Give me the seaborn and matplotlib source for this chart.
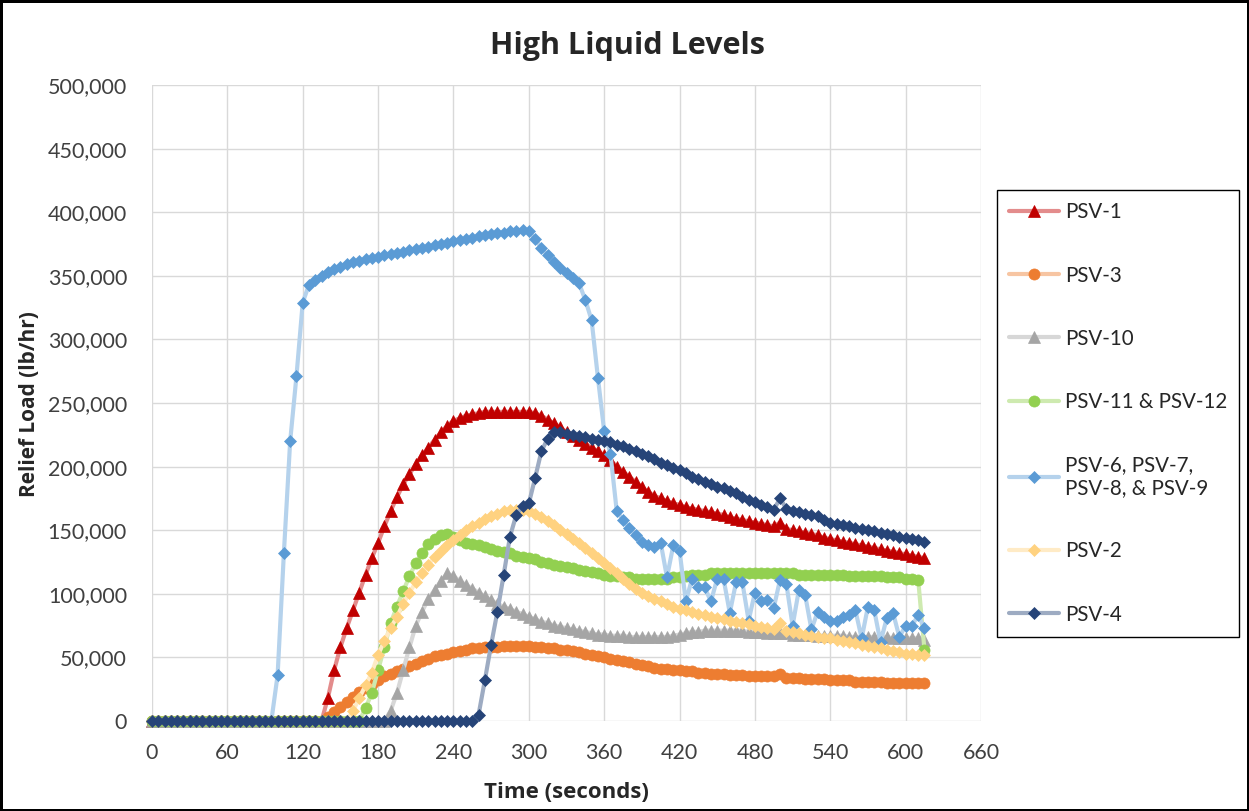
import numpy as np
import matplotlib
matplotlib.use('Agg')
import matplotlib.pyplot as plt
import seaborn as sns
from matplotlib.ticker import FuncFormatter
from matplotlib.colors import to_rgb

# time grid (s) and relief loads, in thousands of lb/hr
time_s = np.arange(0, 620, 5)

psv_1 = [0] * 28 + [
    18, 40, 58, 73, 87, 101, 115, 128, 140, 153,
    165, 176, 186, 194, 202, 209, 215, 221, 227, 232,
    236, 238, 240, 241, 242, 243, 243, 243, 243, 243,
    243, 243, 243, 242, 240, 237, 234, 231, 227, 224,
    221, 218, 215, 212, 209, 205, 200, 196, 192, 188,
    184, 180, 177, 175, 173, 171, 170, 168, 167, 166,
    165, 164, 163, 162, 160, 159, 158, 157, 156, 155,
    154, 153, 156, 151, 150, 149, 148, 147, 146, 144,
    143, 142, 141, 140, 139, 138, 137, 136, 135, 134,
    133, 132, 131, 130, 129, 128]

psv_3 = [0] * 28 + [
    3, 7, 11, 15, 19, 23, 26, 29, 32, 35,
    37, 39, 41, 43, 45, 47, 49, 51, 52, 53,
    54, 55, 56, 57, 57, 58, 58, 58, 59, 59,
    59, 59, 59, 58, 58, 57, 57, 56, 56, 55,
    54, 53, 52, 51, 50, 49, 48, 47, 46, 45,
    44, 43, 42, 41, 41, 40, 40, 39, 39, 38,
    38, 37, 37, 37, 36, 36, 36, 35, 35, 35,
    35, 35, 37, 34, 34, 34, 33, 33, 33, 33,
    32, 32, 32, 32, 31, 31, 31, 31, 31, 30,
    30, 30, 30, 30, 30, 30]

psv_10 = [0] * 38 + [
    8, 22, 40, 58, 75, 86, 96, 103, 110, 116,
    114, 110, 107, 104, 101, 98, 95, 92, 90, 88,
    86, 84, 82, 80, 78, 77, 75, 74, 73, 72,
    71, 70, 69, 68, 68, 67, 67, 67, 66, 66,
    66, 66, 66, 66, 66, 67, 68, 69, 70, 70,
    71, 71, 71, 71, 71, 71, 71, 70, 70, 70,
    69, 69, 69, 69, 68, 68, 68, 68, 67, 67,
    67, 67, 67, 66, 66, 66, 66, 66, 66, 66,
    65, 65, 65, 65, 65, 64]

psv_11_12 = [0] * 34 + [
    10, 22, 40, 58, 77, 90, 102, 114, 124, 132,
    139, 143, 146, 147, 145, 142, 140, 139, 138, 137,
    135, 134, 133, 132, 130, 129, 128, 127, 125, 124,
    123, 122, 121, 120, 119, 118, 117, 116, 115, 114,
    114, 113, 113, 112, 112, 112, 112, 112, 112, 113,
    113, 114, 115, 115, 115, 116, 116, 116, 116, 116,
    116, 116, 116, 116, 116, 116, 116, 116, 116, 115,
    115, 115, 115, 115, 115, 115, 115, 114, 114, 114,
    114, 114, 114, 113, 113, 113, 112, 112, 111, 56]

psv_6_9 = [0] * 20 + [
    36, 132, 220, 271, 329, 343, 347, 350, 353, 355,
    357, 359, 361, 362, 363, 364, 365, 366, 367, 368,
    369, 370, 371, 372, 373, 374, 375, 376, 377, 378,
    379, 380, 381, 382, 383, 384, 384, 385, 385, 386,
    385, 379, 372, 366, 361, 356, 352, 348, 344, 331,
    315, 270, 228, 210, 165, 158, 152, 146, 141, 138,
    137, 140, 113, 138, 134, 94, 112, 105, 105, 94,
    112, 112, 85, 109, 109, 79, 101, 94, 95, 89,
    111, 108, 75, 103, 99, 72, 86, 82, 79, 79,
    82, 83, 87, 65, 90, 87, 62, 81, 85, 66,
    75, 75, 83, 73]

psv_2 = [0] * 32 + [
    8, 18, 28, 38, 52, 63, 73, 82, 92, 101,
    109, 116, 123, 129, 134, 138, 142, 146, 150, 153,
    156, 159, 161, 163, 165, 166, 166, 166, 165, 163,
    160, 157, 154, 150, 147, 143, 140, 136, 132, 128,
    124, 120, 116, 112, 108, 104, 101, 98, 96, 94,
    92, 90, 88, 87, 86, 84, 83, 82, 81, 80,
    79, 78, 77, 76, 75, 74, 73, 72, 77, 71,
    70, 69, 68, 67, 66, 65, 65, 64, 63, 62,
    61, 60, 59, 58, 57, 56, 55, 54, 53, 53,
    52, 52]

psv_4 = [0] * 52 + [
    5, 32, 60, 86, 115, 145, 162, 169, 171, 191,
    212, 222, 227, 227, 226, 225, 224, 223, 222, 221,
    220, 219, 217, 216, 214, 212, 210, 208, 206, 203,
    201, 199, 197, 195, 192, 190, 188, 186, 184, 183,
    181, 179, 176, 174, 172, 170, 168, 166, 175, 167,
    165, 164, 163, 162, 161, 158, 156, 155, 154, 153,
    152, 151, 150, 149, 148, 147, 146, 145, 144, 143,
    142, 141]

series_names = ['PSV-1', 'PSV-3', 'PSV-10', 'PSV-11 & PSV-12',
                'PSV-6, PSV-7,\nPSV-8, & PSV-9', 'PSV-2', 'PSV-4']
series_vals = [psv_1, psv_3, psv_10, psv_11_12, psv_6_9, psv_2, psv_4]

# colour, marker, marker size
styles = [('#C00000', '^', 8.5),
          ('#ED7D31', 'o', 8),
          ('#A5A5A5', '^', 8.5),
          ('#92D050', 'o', 8),
          ('#5B9BD5', 'D', 6.5),
          ('#FFD280', 'D', 6.5),
          ('#264478', 'D', 6.5)]

sns.set_style('white')
plt.rcParams['font.family'] = ['Lato', 'DejaVu Sans']
bold_font = ['Open Sans', 'DejaVu Sans']

fig = plt.figure(figsize=(12.49, 8.11), dpi=100)
fig.patch.set_edgecolor('black')
fig.patch.set_linewidth(2.5)
ax = fig.add_axes([152 / 1249, 90 / 811, 829 / 1249, 636 / 811])

for name, vals, (col, mk, ms) in zip(series_names, series_vals, styles):
    light = tuple(0.45 * c + 0.55 for c in to_rgb(col))
    sns.lineplot(x=time_s, y=np.array(vals) * 1000, ax=ax, color=light,
                 lw=3, marker=mk, markersize=ms, markerfacecolor=col,
                 markeredgecolor=col, markeredgewidth=0.5,
                 estimator=None, errorbar=None, sort=False,
                 label=name, clip_on=False)

ax.set_xlim(0, 660)
ax.set_ylim(0, 500000)
ax.set_xticks(np.arange(0, 661, 60))
ax.set_yticks(np.arange(0, 500001, 50000))
ax.yaxis.set_major_formatter(FuncFormatter(lambda v, p: f'{v:,.0f}'))
ax.grid(True, color='#D9D9D9', lw=1)
for s in ax.spines.values():
    s.set_visible(False)
ax.tick_params(length=0, labelsize=15.5, labelcolor='#404040', pad=16)
ax.tick_params(axis='y', pad=18)
ax.set_xlabel('')
ax.set_ylabel('')

ax.get_legend().remove()
handles, labels = ax.get_legend_handles_labels()
leg = fig.legend(handles, labels, loc='upper left',
                 bbox_to_anchor=(997 / 1249, 1 - 190 / 811),
                 borderaxespad=0, fontsize=14.8, labelspacing=2.1,
                 handlelength=2.4, handletextpad=0.3, borderpad=0.6,
                 fancybox=False, framealpha=1, edgecolor='black')
leg.get_frame().set_linewidth(1)

fig.text(627 / 1249, 1 - 46 / 811, 'High Liquid Levels', ha='center',
         va='center', fontsize=22, fontweight='bold', family=bold_font)
fig.text(566 / 1249, 1 - 792 / 811, 'Time (seconds)', ha='center',
         va='center', fontsize=16, fontweight='bold', family=bold_font)
fig.text(30 / 1249, 1 - 404 / 811, 'Relief Load (lb/hr)', ha='center',
         va='center', fontsize=15, fontweight='bold', rotation=90,
         family=bold_font)

fig.savefig('out.png', dpi=100)
